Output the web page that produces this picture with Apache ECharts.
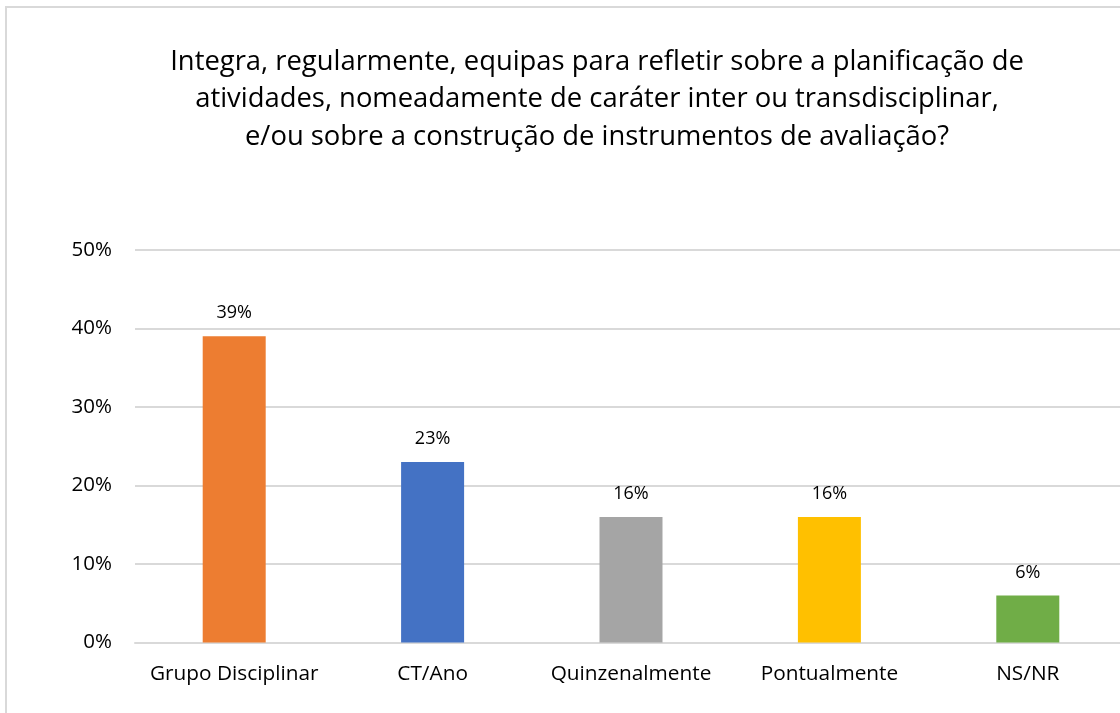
<!DOCTYPE html>
<html>
<head>
<meta charset="utf-8">
<script src="https://cdn.jsdelivr.net/npm/echarts@6/dist/echarts.min.js"></script>
<style>
  html, body { margin: 0; padding: 0; background: #fff; }
  #chart { width: 1120px; height: 713px; }
</style>
</head>
<body>
<div id="chart"></div>
<script>
const titleLines = [
  'Integra, regularmente, equipas para refletir sobre a planificação de',
  'atividades, nomeadamente de caráter inter ou transdisciplinar,',
  'e/ou sobre a construção de instrumentos de avaliação?'
];
const categories = ['Grupo Disciplinar', 'CT/Ano', 'Quinzenalmente', 'Pontualmente', 'NS/NR'];
const values = [39, 23, 16, 16, 6];
const barColors = ['#ED7D31', '#4472C4', '#A5A5A5', '#FFC000', '#70AD47'];

const font = '"Open Sans", "Noto Sans", sans-serif';

const chart = echarts.init(document.getElementById('chart'));
chart.setOption({
  backgroundColor: '#fff',
  animation: false,
  graphic: [
    {
      type: 'rect',
      shape: { x: 6, y: 7, width: 1300, height: 900 },
      style: { fill: 'none', stroke: '#d9d9d9', lineWidth: 2 },
      silent: true
    }
  ],
  title: {
    text: titleLines.join('\n'),
    left: 592,
    textAlign: 'center',
    top: 38,
    textStyle: {
      fontFamily: font,
      fontSize: 27.4,
      fontWeight: 'normal',
      color: '#000',
      lineHeight: 37.5
    }
  },
  grid: { left: 135, width: 992, top: 250, bottom: 70.5, outerBoundsMode: 'none' },
  xAxis: {
    type: 'category',
    data: categories,
    axisLine: { lineStyle: { color: '#d9d9d9', width: 2 } },
    axisTick: { show: false },
    axisLabel: { interval: 0, color: '#000', fontFamily: font, fontSize: 20.8, margin: 21 }
  },
  yAxis: {
    type: 'value',
    min: 0,
    max: 50,
    interval: 10,
    axisLine: { show: false },
    axisTick: { show: false },
    splitLine: { lineStyle: { color: '#d9d9d9', width: 2 } },
    axisLabel: {
      color: '#000', fontFamily: font, fontSize: 20.5, margin: 23,
      formatter: '{value}%'
    }
  },
  series: [
    {
      type: 'bar',
      data: values.map((v, i) => ({ value: v, itemStyle: { color: barColors[i] } })),
      barWidth: 63,
      label: {
        show: true,
        position: 'top',
        distance: 14,
        formatter: '{c}%',
        color: '#000',
        fontFamily: font,
        fontSize: 18
      }
    }
  ]
});
</script>
</body>
</html>
